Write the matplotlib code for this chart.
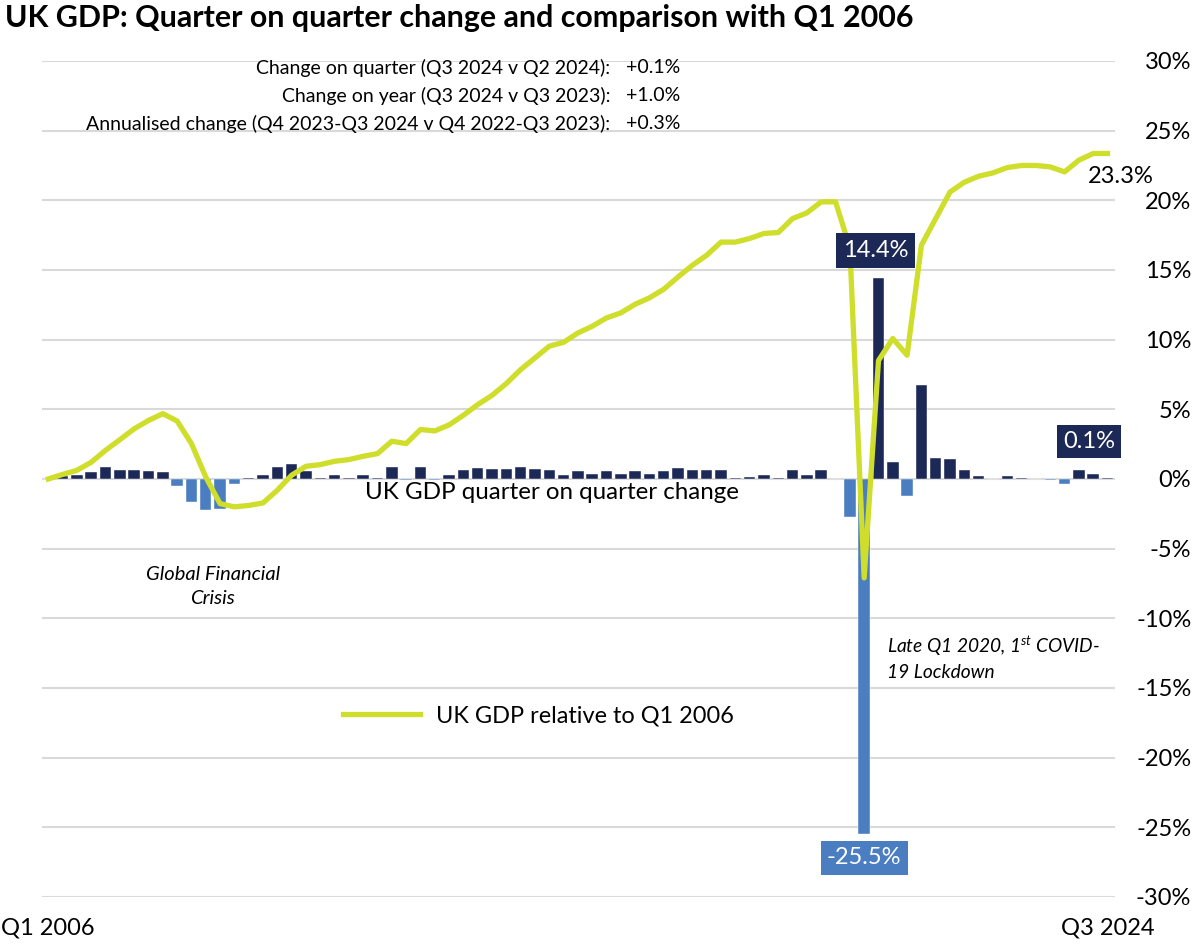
import matplotlib
matplotlib.use("Agg")
import matplotlib.pyplot as plt
import numpy as np

# quarters Q1 2006 .. Q3 2024
quarters = ["Q%d %d" % (q, y) for y in range(2006, 2025) for q in range(1, 5)][:75]

# quarter on quarter change, %
qoq = [0.0, 0.24, 0.29, 0.48, 0.89, 0.67, 0.67, 0.57, 0.48, -0.5,
       -1.65, -2.2, -2.13, -0.33, 0.05, 0.29, 0.89, 1.1, 0.6, 0.05,
       0.29, 0.05, 0.26, 0.05, 0.86, -0.1, 0.86, -0.1, 0.26, 0.67,
       0.77, 0.69, 0.72, 0.86, 0.74, 0.67, 0.26, 0.57, 0.38, 0.57,
       0.38, 0.57, 0.38, 0.57, 0.77, 0.62, 0.62, 0.67, 0.05, 0.17,
       0.26, 0.05, 0.67, 0.26, 0.65, 0.0, -2.75, -25.5, 14.4, 1.25,
       -1.2, 6.77, 1.53, 1.44, 0.65, 0.24, 0.0, 0.24, 0.05, 0.0,
       -0.05, -0.33, 0.65, 0.36, 0.1]

# GDP relative to Q1 2006, %
rel = [0.0, 0.33, 0.62, 1.2, 2.06, 2.82, 3.6, 4.2, 4.69, 4.16,
       2.54, 0.15, -1.77, -2.0, -1.9, -1.72, -0.81, 0.27, 0.91, 1.03,
       1.27, 1.39, 1.63, 1.82, 2.71, 2.54, 3.55, 3.45, 3.88, 4.57,
       5.34, 6.0, 6.85, 7.85, 8.69, 9.53, 9.81, 10.48, 10.96, 11.56,
       11.92, 12.54, 13.0, 13.62, 14.5, 15.34, 16.06, 17.0, 17.0, 17.26,
       17.62, 17.69, 18.69, 19.1, 19.89, 19.89, 16.6, -7.1, 8.5, 10.08,
       8.88, 16.78, 18.69, 20.6, 21.3, 21.73, 21.97, 22.35, 22.5, 22.5,
       22.4, 22.04, 22.88, 23.36, 23.36]

info_labels = ["Change on quarter (Q3 2024 v Q2 2024):",
               "Change on year (Q3 2024 v Q3 2023):",
               "Annualised change (Q4 2023-Q3 2024 v Q4 2022-Q3 2023):"]
info_values = ["+0.1%", "+1.0%", "+0.3%"]

NAVY = "#1c2957"
BLUE = "#4a7ec1"
GREEN = "#cfdd2b"

plt.rcParams['font.family'] = ['Lato', 'DejaVu Sans']
plt.rcParams['mathtext.fontset'] = 'custom'
plt.rcParams['mathtext.rm'] = 'Lato:italic'
plt.rcParams['mathtext.it'] = 'Lato:italic'

fig = plt.figure(figsize=(12.03, 9.44), dpi=100)
ax = fig.add_axes([0.0349, 0.0498, 0.8919, 0.8856])

x = np.arange(len(quarters))
cols = [NAVY if v >= 0 else BLUE for v in qoq]
ax.bar(x, qoq, width=0.8, color=cols, edgecolor="white", linewidth=0.3, zorder=2)
ax.plot(x, rel, color=GREEN, lw=3.8, zorder=3, solid_joinstyle="round",
        label="UK GDP relative to Q1 2006")

ax.set_xlim(-0.44, 74.52)
ax.set_ylim(-30, 30)
ax.set_yticks(np.arange(-30, 31, 5))
ax.set_yticklabels(["%d%%" % v for v in np.arange(-30, 31, 5)])
ax.yaxis.tick_right()
ax.tick_params(axis='y', length=0, pad=55, labelsize=17)
for t in ax.get_yticklabels():
    t.set_horizontalalignment('right')
ax.set_xticks([0, 74])
ax.set_xticklabels([quarters[0], quarters[-1]])
ax.tick_params(axis='x', length=0, pad=15, labelsize=17)
ax.grid(axis='y', color="#d9d9d9", lw=1.5, zorder=0)
for s in ax.spines.values():
    s.set_visible(False)

# data labels
i58 = quarters.index("Q3 2020")
ax.text(i58 - 0.2, 16.4, "%.1f%%" % qoq[i58], ha="center", va="center", color="white",
        fontsize=17, zorder=5, bbox=dict(boxstyle="square,pad=0.28", fc=NAVY, ec="none"))
i57 = quarters.index("Q2 2020")
ax.text(i57, -27.2, "%.1f%%" % qoq[i57], ha="center", va="center", color="white",
        fontsize=17, zorder=5, bbox=dict(boxstyle="square,pad=0.26", fc=BLUE, ec="none"))
ax.text(72.7, 2.7, "%.1f%%" % qoq[-1], ha="center", va="center", color="white",
        fontsize=17, zorder=5, bbox=dict(boxstyle="square,pad=0.26", fc=NAVY, ec="none"))
ax.text(74.9, 21.7, "%.1f%%" % 23.3, ha="center", va="center", color="black",
        fontsize=17, zorder=5)

ax.text(35.2, -1.0, "UK GDP quarter on quarter change", ha="center", va="center",
        fontsize=17.4, zorder=4)
ax.text(11.5, -7.75, "Global Financial\nCrisis", ha="center", va="center",
        fontsize=14.5, style="italic", linespacing=1.5)
ax.text(58.6, -12.8, "Late Q1 2020, 1$^{st}$ COVID-\n19 Lockdown", ha="left", va="center",
        fontsize=13.8, style="italic", linespacing=1.4)

ax.legend(loc="center left", bbox_to_anchor=(0.2805, 0.2165), frameon=False,
          fontsize=16.9, handlelength=3.3, handletextpad=0.65, borderpad=0, borderaxespad=0)

# info block
for k, (lab, val) in enumerate(zip(info_labels, info_values)):
    yy = 0.928 - k * 0.0295
    fig.text(0.5075, yy, lab, ha="right", va="center", fontsize=14)
    fig.text(0.520, yy, val, ha="left", va="center", fontsize=14)

fig.text(0.004, 0.981, "UK GDP: Quarter on quarter change and comparison with Q1 2006",
         ha="left", va="center", fontsize=21.9, fontweight="bold")

fig.savefig("out.png", dpi=100)
